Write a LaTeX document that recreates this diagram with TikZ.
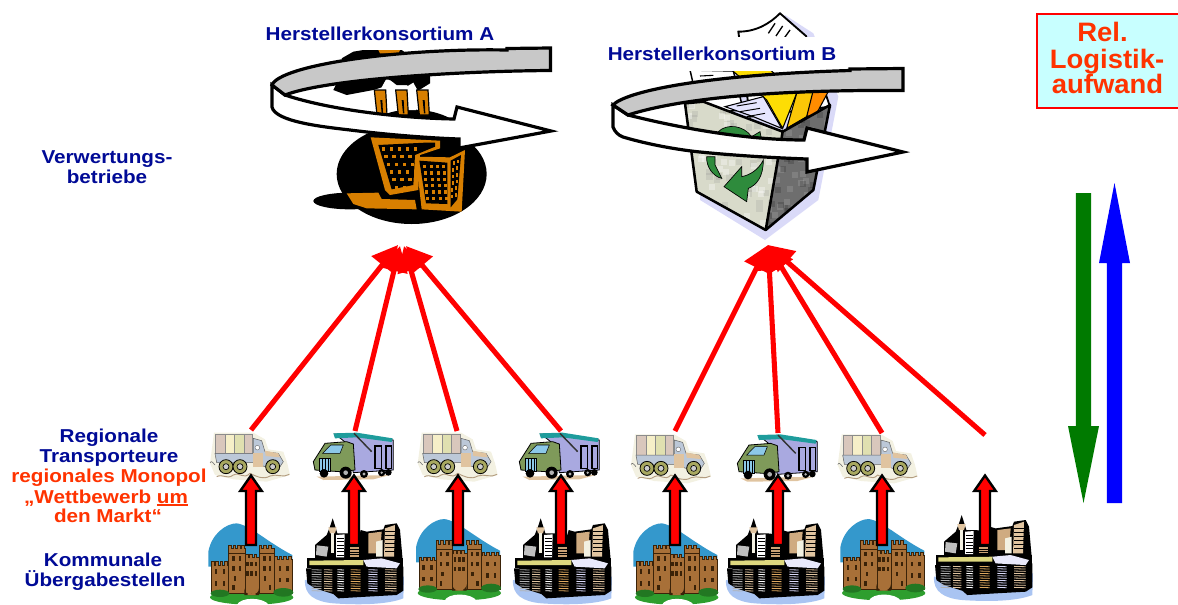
\documentclass[tikz,border=0pt]{standalone}
\usepackage{fontspec}
\setmainfont{Liberation Sans}
\usetikzlibrary{arrows.meta}
\definecolor{navyt}{HTML}{000A96}
\definecolor{oranget}{HTML}{FF3300}
\definecolor{ringgray}{HTML}{C8C8C8}
\definecolor{boxcyan}{HTML}{C8FFFF}
\definecolor{factory}{HTML}{D87F00}
\definecolor{arrgreen}{HTML}{007A00}
\definecolor{lav}{HTML}{DADAF8}
\definecolor{binl}{HTML}{D8DACA}
\definecolor{binr}{HTML}{6E6E6E}
\definecolor{recyc}{HTML}{2E8B3C}
\definecolor{sky}{HTML}{3498CC}
\definecolor{brick}{HTML}{A87038}
\definecolor{brickd}{HTML}{3A2208}
\definecolor{lawn}{HTML}{2E9E2E}
\definecolor{water}{HTML}{A9C4F2}
\definecolor{cream}{HTML}{F3F1E2}
\definecolor{wheelc}{HTML}{A8A860}
\definecolor{bluegrey}{HTML}{BCC8D8}
\definecolor{tanc}{HTML}{E0C4A0}
\definecolor{purp}{HTML}{A9A9E0}
\definecolor{cabg}{HTML}{7F9A5A}
\definecolor{teal2}{HTML}{1E9C9C}
\definecolor{lblue}{HTML}{8CC8E8}
\definecolor{carga}{HTML}{D9C7BC}
\definecolor{cargb}{HTML}{F6EFC8}
\definecolor{cargc}{HTML}{E0E0B0}
\newcommand{\wtxt}[1]{\scalebox{1.107}[1]{#1}}
\newcommand{\wbig}[1]{\scalebox{1.03}[1]{#1}}
\newsavebox{\umbox}
\newcommand{\umline}[1]{\sbox{\umbox}{#1}\rlap{\textcolor{oranget}{\rule[-2pt]{\wd\umbox}{1.1pt}}}\usebox{\umbox}}
\tikzset{
  lab/.style={font=\fontsize{14}{14}\selectfont\bfseries,text=navyt,inner sep=0pt,anchor=base},
  labo/.style={lab,text=oranget},
  labbig/.style={labo,font=\fontsize{20}{20}\selectfont\bfseries},
  ring/.style={draw=black,line width=2.4pt,miter limit=10,line join=miter},
  redarrow/.style={draw=red,line width=3.8pt,-{Triangle[length=19pt,width=20pt]}},
  vert/.style={draw=black,fill=red,line width=1.8pt,line join=miter,miter limit=10},
}
\newcommand{\lorryA}[2]{\begin{scope}[shift={(#1,#2)},x=.25pt,y=-.25pt]
  \fill[cream] (42,38) -- (160,38) -- (195,58) -- (205,88) -- (250,95) -- (262,130) -- (270,165) -- (200,185) -- (100,178) -- (45,165) -- (30,130) -- cycle;
  \draw[tanc!80!black,line width=.7pt] (50,170) .. controls (70,160) and (80,180) .. (100,165) .. controls (120,155) and (130,180) .. (150,160) .. controls (170,170) and (190,180) .. (210,168) .. controls (230,160) and (250,175) .. (268,163);
  \draw[black!60,line width=.4pt] (30,128) .. controls (35,120) and (40,130) .. (45,135);
  \fill[carga] (47,42) rectangle (75,100);
  \fill[cargb] (75,42) rectangle (104,100);
  \fill[cargc] (104,42) rectangle (132,100);
  \fill[carga] (132,42) rectangle (158,100);
  \draw[black!45,line width=.4pt] (47,42) rectangle (158,100) (75,42) -- (75,100) (104,42) -- (104,100) (132,42) -- (132,100);
  \filldraw[fill=bluegrey,draw=black!60,line width=.4pt] (45,100) -- (160,100) -- (160,55) -- (185,62) -- (195,95) -- (235,100) -- (250,125) -- (240,140) -- (195,140) -- (160,128) -- (50,128) -- cycle;
  \fill[tanc] (160,98) -- (190,98) -- (190,140) -- (160,140) -- cycle;
  \fill[tanc] (195,92) -- (235,100) -- (240,112) -- (197,108) -- cycle;
  \filldraw[fill=white,draw=black!60,line width=.3pt] (172,83) circle (7);
  \foreach \wx in {78,120,218}{
    \filldraw[fill=wheelc,draw=black,line width=.6pt] (\wx,140) circle (21);
    \filldraw[fill=gray!40,draw=black,line width=.5pt] (\wx,140) circle (9);
  }
\end{scope}}
\newcommand{\lorryB}[2]{\begin{scope}[shift={(#1,#2)},x=.25pt,y=-.25pt]
  \fill[tanc] (350,170) -- (570,165) -- (520,178) -- (370,180) -- cycle;
  \filldraw[fill=purp,draw=black,line width=.6pt] (405,42) -- (580,60) -- (580,150) -- (460,158) -- (440,70) -- cycle;
  \draw[black,line width=.8pt] (525,78) -- (545,78) -- (545,145) -- (525,145) -- cycle (558,78) -- (575,78) -- (575,145) -- (558,145) -- cycle;
  \fill[teal2] (400,40) -- (470,38) -- (578,55) -- (575,66) -- (470,52) -- (405,55) -- cycle;
  \draw[black!80,line width=1.1pt] (462,40) -- (515,95);
  \filldraw[fill=cabg,draw=black,line width=.6pt] (340,125) -- (375,70) -- (440,65) -- (460,72) -- (465,150) -- (420,155) -- (345,150) -- cycle;
  \filldraw[fill=lblue,draw=black,line width=.4pt] (368,100) -- (392,75) -- (430,75) -- (420,100) -- cycle;
  \filldraw[fill=lblue,draw=black,line width=.4pt] (358,115) -- (392,115) -- (392,155) -- (358,155) -- cycle;
  \draw[black,line width=.3pt] (366,115) -- (366,155) (375,115) -- (375,155) (384,115) -- (384,155);
  \fill[black] (372,160) circle (13) (437,158) circle (18) (492,162) circle (12) (545,158) circle (11) (565,157) circle (10);
  \fill[gray!60] (437,158) circle (7) (492,162) circle (5) (545,158) circle (4);
\end{scope}}
\newcommand{\castleart}[2]{\begin{scope}[shift={(#1,#2)},x=.25pt,y=-.25pt]
  \fill[sky] (25,440) -- (25,395) .. controls (35,340) and (80,310) .. (110,310) .. controls (150,315) and (200,365) .. (277,405) -- (277,440) -- cycle;
  \fill[lawn] (155,532) ellipse (125 and 22);
  \filldraw[fill=brick,draw=brickd,line width=.7pt] (35,435) -- (85,435) -- (85,385) -- (135,385) -- (135,412) -- (178,412) -- (178,385) -- (222,385) -- (222,418) -- (278,418) -- (278,520) -- (35,520) -- cycle;
  \foreach \cx/\cy in {37/425,50/425,63/425,76/425,88/375,102/375,116/375,128/375,140/403,152/403,165/403,180/375,194/375,208/375,226/409,240/409,254/409,268/409}{
    \fill[brick] (\cx-3,\cy) rectangle (\cx+5,\cy+12);
    \draw[brickd,line width=.4pt] (\cx-3,\cy+12) -- (\cx-3,\cy) -- (\cx+5,\cy) -- (\cx+5,\cy+12);
  }
  \draw[brickd,line width=.6pt] (85,400) -- (135,400) (178,400) -- (222,400) (135,412) -- (135,520) (178,412) -- (178,520) (85,435) -- (85,520) (222,418) -- (222,520);
  \foreach \wx/\wy in {48/455,72/455,48/490,72/490,100/415,120/415,100/445,120/445,105/475,193/415,210/415,193/445,210/445,195/475,142/432,155/432,168/432,142/460,155/460,168/460,240/445,262/445,240/480,262/480,100/503,210/503}
    \fill[brickd] (\wx-4,\wy-7) rectangle (\wx+4,\wy+7);
  \fill[brickd] (133,525) -- (133,505) arc[start angle=180,end angle=0,x radius=22,y radius=20] -- (177,525) -- cycle;
  \fill[brick] (143,525) -- (143,510) arc[start angle=180,end angle=0,x radius=12,y radius=10] -- (167,525) -- cycle;
  \fill[lawn!75!black] (60,520) ellipse (28 and 11) (250,517) ellipse (30 and 13);
  \fill[white] (110,556) .. controls (120,530) and (190,530) .. (208,556) -- cycle;
\end{scope}}
\newcommand{\cityart}[2]{\begin{scope}[shift={(#1,#2)},x=.25pt,y=-.25pt]
  \fill[water] (315,480) .. controls (312,525) and (345,545) .. (400,550) .. controls (470,555) and (560,555) .. (610,535) -- (612,470) -- cycle;
  \fill[black] (345,415) -- (345,375) -- (380,345) -- (390,320) -- (398,295) -- (406,320) -- (412,340) -- (440,340) -- (478,345) -- (482,330) -- (500,335) -- (550,328) -- (555,315) -- (590,310) -- (600,330) -- (608,420) -- cycle;
  \fill[tanc] (385,322) -- (410,322) -- (405,340) -- (390,340) -- cycle;
  \fill[cream] (392,340) rectangle (402,400);
  \fill[white] (408,345) -- (434,343) -- (432,412) -- (408,412) -- cycle;
  \foreach \yy in {355,365,...,405}{\draw[black,line width=.3pt] (410,\yy) -- (431,\yy);}
  \fill[gray!50] (350,376) -- (385,380) -- (380,410) -- (348,405) -- cycle;
  \fill[tanc!70!brick] (505,340) -- (545,335) -- (540,400) -- (505,400) -- cycle;
  \fill[cream] (528,365) -- (548,360) -- (548,410) -- (528,410) -- cycle;
  \fill[tanc] (555,325) -- (585,315) -- (582,410) -- (552,410) -- cycle;
  \foreach \yy in {335,347,...,405}{\draw[black,line width=.4pt] (555,\yy) -- (584,\yy);}
  \fill[tanc!60!brick] (450,380) rectangle (478,410);
  \foreach \yy in {388,396,404}{\draw[black,line width=.3pt] (450,\yy) -- (478,\yy);}
  \fill[black] (318,445) -- (610,440) -- (610,512) -- (590,525) -- (500,530) -- (415,535) -- (400,522) -- (345,505) -- (322,490) -- cycle;
  \fill[black] (320,415) rectangle (610,445);
  \fill[yellow!50!white!85!black] (328,422) -- (490,420) -- (490,435) -- (328,435) -- cycle;
  \fill[lav!60!white] (490,420) -- (545,415) -- (600,430) -- (590,445) -- (500,440) -- cycle;
  \foreach \sx/\sw/\sc in {335/30/gray!60,372/25/tanc,412/20/white,452/30/tanc!60!factory,505/28/lav,555/35/tanc}{
    \foreach \yy in {449,456,...,512}{
      \draw[\sc,line width=.6pt] (\sx,\yy) -- (\sx+\sw,\yy+1);
    }
  }
\end{scope}}
\newcommand{\vertarrow}[2]{%
  \coordinate (vb#1) at (#2,545);
  \coordinate (vt#1) at (#2,475.5);
  \draw[vert] (vb#1) ++(-5,0) -- ++(0,-54) -- ++(-5.8,0) -- (vt#1) -- ++(10.8,15.5) -- ++(-5.8,0) -- ++(0,54) -- cycle;
}
\begin{document}
\begin{tikzpicture}[x=.75pt,y=-.75pt]
\useasboundingbox (0,0) rectangle (1178,604);
\clip (0,0) rectangle (1178,604);

% factory
\begin{scope}[shift={(250,0)},x=.25pt,y=-.25pt]
  \fill[black] (300,603) ellipse (110 and 25);
  \fill[black] (485,522) ellipse (225 and 150);
  \fill[black] (400,345) .. controls (450,322) and (540,322) .. (600,355) -- (600,400) -- (400,400) -- cycle;
  \fill[factory] (290,580) -- (385,578) -- (395,597) -- (495,600) -- (500,628) -- (350,625) -- (310,612) -- cycle;
  \fill[black] (250,270) -- (265,240) -- (300,225) -- (275,175) -- (310,155) -- (340,150) -- (455,150) -- (540,210) -- (540,250) -- (500,275) -- (470,255) -- (440,255) -- (420,240) -- (395,262) -- (370,270) -- (290,285) -- cycle;
  \fill[factory] (385,150) -- (450,150) -- (445,160) -- (390,160) -- cycle;
  \fill[white] (395,262) -- (410,235) -- (432,250) -- (432,330) -- (410,330) -- cycle;
  \fill[white] (470,260) -- (490,248) -- (502,270) -- (498,330) -- (475,330) -- cycle;
  \foreach \cx in {373,437,500}{
    \filldraw[fill=factory,draw=black,line width=.9pt] (\cx,270) -- (\cx+34,270) -- (\cx+38,345) -- (\cx+8,345) -- cycle;
    \fill[black] (\cx+18,300) -- (\cx+24,300) -- (\cx+26,340) -- (\cx+22,340) -- cycle;
  }
  \fill[factory] (362,412) -- (570,422) -- (570,445) -- (510,465) -- (505,570) -- (420,585) -- (405,570) -- cycle;
  \fill[black] (385,435) -- (525,428) -- (555,428) -- (555,440) -- (495,465) -- (490,555) -- (425,568) -- cycle;
  \foreach \i in {0,...,4}{\foreach \j in {0,...,5}{
    \pgfmathsetmacro{\wx}{395+\i*24+\j*8}
    \pgfmathsetmacro{\wy}{442+\j*23}
    \ifnum\numexpr\i*2+\j<11 \fill[factory] (\wx,\wy) rectangle (\wx+10,\wy+10);\fi
  }}
  \fill[factory] (497,470) -- (600,472) -- (645,450) -- (635,635) -- (515,628) -- cycle;
  \fill[black] (508,482) -- (592,488) -- (592,612) -- (528,610) -- cycle;
  \fill[black] (602,482) -- (633,465) -- (622,598) -- (602,622) -- cycle;
  \foreach \i in {0,1,2,3}{\foreach \j in {0,...,5}{
    \pgfmathsetmacro{\wx}{520+\i*19+\j*1.5}
    \pgfmathsetmacro{\wy}{495+\j*19}
    \fill[factory] (\wx,\wy) rectangle (\wx+9,\wy+10);
  }}
  \foreach \i in {0,1}{\foreach \j in {0,...,5}{
    \pgfmathsetmacro{\wx}{608+\i*12-\j*1}
    \pgfmathsetmacro{\wy}{484-\i*5+\j*20}
    \fill[factory] (\wx,\wy) rectangle (\wx+6,\wy+11);
  }}
\end{scope}

% recycling bin
\begin{scope}[shift={(600,0)},x=.25pt,y=-.25pt]
  \fill[lav] (300,600) -- (495,720) -- (655,600) -- (715,290) -- (640,100) -- (555,45) -- (470,120) -- (300,300) -- cycle;
  \filldraw[fill=white,draw=black,line width=1.4pt] (415,95) .. controls (470,95) and (510,70) .. (540,40) -- (618,108) -- (690,320) -- (450,350) -- cycle;
  \draw[black,line width=1pt] (505,100) -- (525,70) (528,108) -- (548,78) (550,118) -- (570,90);
  \filldraw[fill=white,draw=black,line width=1.1pt] (270,210) -- (400,213) -- (430,330) -- (300,340) -- cycle;
  \draw[black,line width=.8pt] (300,228) -- (340,226);
  \filldraw[fill=yellow!80!orange,draw=black,line width=.8pt] (395,210) -- (500,200) -- (590,280) -- (548,385) -- (500,300) -- cycle;
  \filldraw[fill=yellow!60!orange,draw=black,line width=.8pt] (590,280) -- (670,270) -- (620,350) -- (560,385) -- cycle;
  \filldraw[fill=orange!90!yellow,draw=black,line width=.8pt] (640,270) -- (690,265) -- (650,340) -- (620,350) -- cycle;
  \filldraw[fill=white!90!blue,draw=black,line width=.8pt] (375,320) -- (490,290) -- (545,385) -- (460,350) -- cycle;
  \draw[black,line width=.7pt] (410,318) -- (470,308) (420,335) -- (480,325) (440,350) -- (495,340);
  % panels
  \begin{scope}
    \clip (255,310) -- (310,305) -- (548,395) -- (497,690) -- (290,575) -- cycle;
    \fill[binl] (240,290) rectangle (560,700);
    \pgfmathsetseed{4211}
    \foreach \k in {1,...,70}{
      \pgfmathsetmacro{\rx}{250+rnd*300}
      \pgfmathsetmacro{\ry}{300+rnd*390}
      \fill[gray,opacity=.16] (\rx,\ry) rectangle (\rx+20,\ry+20);
    }
    \foreach \k in {1,...,50}{
      \pgfmathsetmacro{\rx}{250+rnd*300}
      \pgfmathsetmacro{\ry}{300+rnd*390}
      \fill[white,opacity=.35] (\rx,\ry) rectangle (\rx+18,\ry+18);
    }
  \end{scope}
  \begin{scope}
    \clip (548,395) -- (690,315) -- (640,570) -- (497,690) -- cycle;
    \fill[binr] (490,300) rectangle (700,700);
    \pgfmathsetseed{907}
    \foreach \k in {1,...,60}{
      \pgfmathsetmacro{\rx}{490+rnd*210}
      \pgfmathsetmacro{\ry}{310+rnd*380}
      \fill[white,opacity=.12] (\rx,\ry) rectangle (\rx+18,\ry+18);
    }
    \foreach \k in {1,...,40}{
      \pgfmathsetmacro{\rx}{490+rnd*210}
      \pgfmathsetmacro{\ry}{310+rnd*380}
      \fill[black,opacity=.16] (\rx,\ry) rectangle (\rx+18,\ry+18);
    }
  \end{scope}
  \draw[black,line width=1.9pt,line join=round] (255,310) -- (290,575) -- (497,690) -- (640,570) -- (690,315) -- (548,395) -- (497,690) (548,395) -- (310,305) -- (255,310);
  % recycle arrows
  \filldraw[fill=recyc,draw=black,line width=.5pt] (490,480) .. controls (490,530) and (470,555) .. (445,565) -- (440,605) -- (372,560) -- (425,500) -- (425,530) .. controls (450,525) and (475,510) .. (490,480) -- cycle;
  \filldraw[fill=recyc,draw=black,line width=.5pt] (320,470) .. controls (318,500) and (340,530) .. (365,535) -- (345,495) -- (345,470) -- cycle;
  \filldraw[fill=recyc,draw=black,line width=.5pt] (355,395) .. controls (380,370) and (430,375) .. (455,410) -- (480,395) -- (485,420) -- (400,420) -- cycle;
\end{scope}

% white boxes behind the titles
\fill[white] (262,17) rectangle (498,50);
\fill[white] (600,37) rectangle (840,71);

% ring arrows
\filldraw[ring,fill=white] (272,85) -- (272,107) .. controls (275,122) and (325,127) .. (350,130) .. controls (390,135) and (430,138) .. (459,139) -- (459,148) -- (551,131) -- (457,107) -- (454,119) .. controls (400,118) and (330,110) .. (285,95) -- cycle;
\filldraw[ring,fill=ringgray] (550.5,48) -- (550.5,70.5) .. controls (470,71) and (330,78) .. (285,95) -- (272,85) .. controls (280,65) and (400,48) .. (507,50) -- (507,48.5) -- cycle;
\filldraw[ring,fill=white] (613,105) -- (613,127) .. controls (615,132) and (618,135) .. (623,137) .. controls (650,145) and (680,150) .. (700,152) .. controls (740,156) and (780,158) .. (807,159) -- (807,172) -- (903,152) -- (807,128) -- (804,140) .. controls (760,140) and (700,133) .. (628,115) -- cycle;
\filldraw[ring,fill=ringgray] (903,68.5) -- (903,90.5) .. controls (830,90) and (700,92) .. (628,115) -- (613,105) .. controls (625,92) and (700,75) .. (850,70.5) -- (850,69) -- cycle;

% pictures at the bottom
\lorryA{200}{420}
\lorryB{200}{420}
\lorryA{407.7}{420}
\lorryB{406}{420}
\lorryA{621}{421.7}
\lorryB{624}{421.7}
\lorryA{827.7}{421.7}
\cityart{200}{420}
\cityart{408}{420}
\cityart{621}{420}
\cityart{829}{416.7}
\castleart{200}{420}
\castleart{407.7}{415.7}
\castleart{625}{420}
\castleart{832}{415.7}

% vertical arrows
\vertarrow{1}{251}
\vertarrow{2}{354}
\vertarrow{3}{458}
\vertarrow{4}{561}
\vertarrow{5}{675}
\vertarrow{6}{778}
\vertarrow{7}{882}
\vertarrow{8}{985}

% slanted red arrows
\coordinate (s1) at (251,430);
\coordinate (s2) at (355,431);
\coordinate (s3) at (457,431);
\coordinate (s4) at (561,431);
\coordinate (s5) at (675,431);
\coordinate (s6) at (778,433);
\coordinate (s7) at (882,433);
\coordinate (s8) at (985,435);
\coordinate (ta1) at (398,245);
\coordinate (ta2) at (400,246);
\coordinate (ta3) at (404,246);
\coordinate (ta4) at (406,246);
\coordinate (tb) at (768,245);
\draw[redarrow] (s1) -- (ta1);
\draw[redarrow] (s2) -- (ta2);
\draw[redarrow] (s3) -- (ta3);
\draw[redarrow] (s4) -- (ta4);
\draw[redarrow] (s5) -- (tb);
\draw[redarrow] (s6) -- (tb);
\draw[redarrow] (s7) -- (tb);
\draw[redarrow] (s8) -- (tb);

% right side arrows
\coordinate (gtop) at (1083.5,193);
\coordinate (gtip) at (1083.5,503);
\coordinate (btop) at (1114.5,183);
\coordinate (bbot) at (1114.5,503);
\fill[arrgreen] (gtop) ++(-7.7,0) -- ++(15.4,0) -- ++(0,233) -- ++(7.8,0) -- (gtip) -- (1068,426) -- (1075.8,426) -- cycle;
\fill[blue] (bbot) ++(-7.7,0) -- ++(15.4,0) -- ++(0,-240) -- ++(7.8,0) -- (btop) -- (1099,263) -- (1106.8,263) -- cycle;

% box
\node[draw=red,fill=boxcyan,line width=2.2pt,minimum width=146*.75pt,minimum height=94*.75pt,inner sep=0pt,anchor=north west] (boxr) at (1035.5,12.5) {};
\node[labbig] (r1) at (1102.5,41) {\wbig{Rel.}};
\node[labbig] (r2) at (1107,68.5) {\wbig{Logistik-}};
\node[labbig] (r3) at (1107.5,93.5) {\wbig{aufwand}};

% labels
\node[lab] (ha) at (380,40) {\wtxt{Herstellerkonsortium A}};
\node[lab] (hb) at (722,60) {\wtxt{Herstellerkonsortium B}};
\node[lab] (v1) at (107,163.5) {\wtxt{Verwertungs-}};
\node[lab] (v2) at (107,183.5) {\wtxt{betriebe}};
\node[lab] (t1) at (109,442.7) {\wtxt{Regionale}};
\node[lab] (t2) at (109,462.7) {\wtxt{Transporteure}};
\node[labo] (o1) at (109,482.7) {\wtxt{regionales Monopol}};
\node[labo] (o2) at (106,503) {\wtxt{„Wettbewerb \umline{um}}};
\node[labo] (o3) at (108,522.7) {\wtxt{den Markt“}};
\node[lab] (k1) at (103,566.7) {\wtxt{Kommunale}};
\node[lab] (k2) at (105,586.7) {\wtxt{Übergabestellen}};
\end{tikzpicture}
\end{document}
